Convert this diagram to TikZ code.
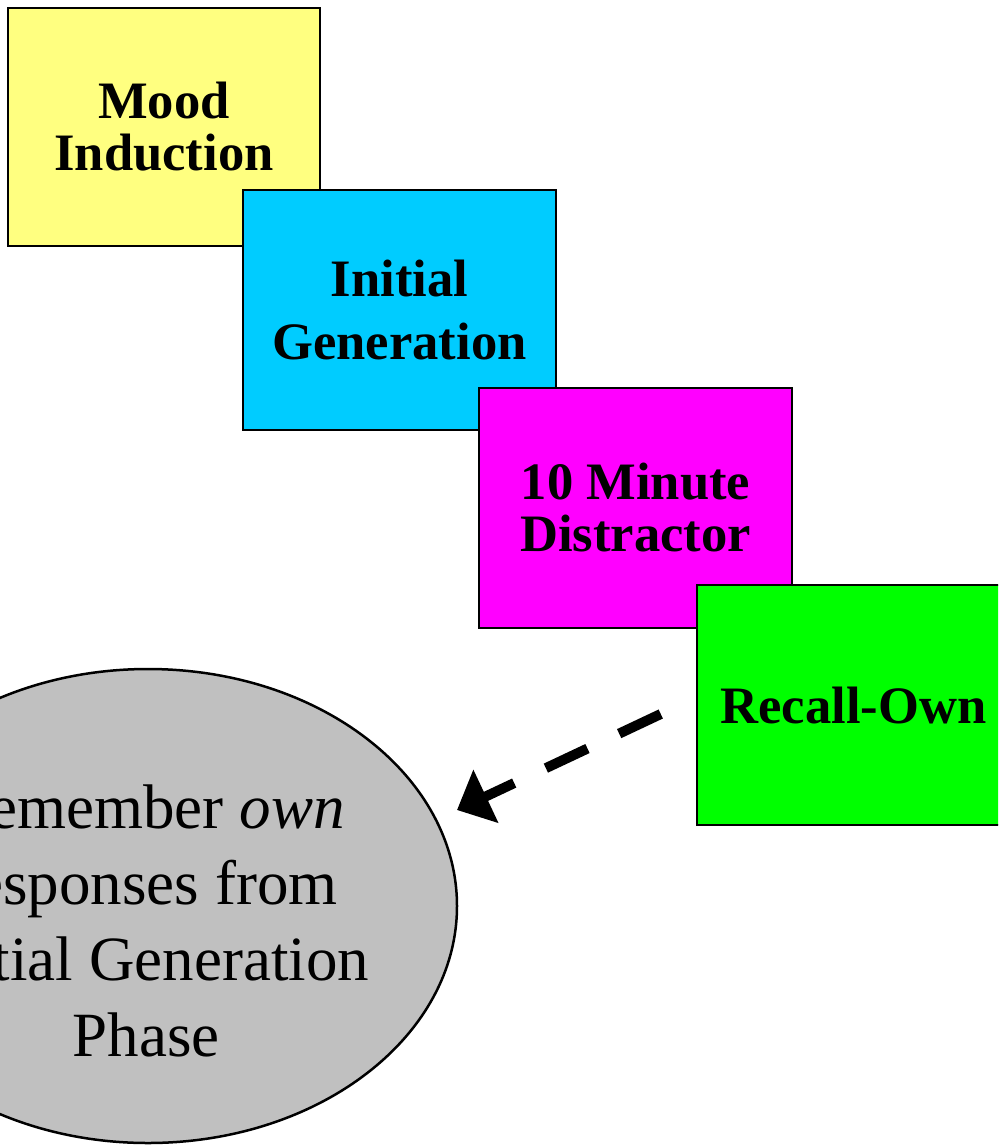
\documentclass[tikz,border=0pt]{standalone}
\usepackage{fontspec}
\setmainfont{Liberation Serif}
\usetikzlibrary{shapes.geometric,arrows.meta}
\definecolor{moodyellow}{RGB}{255,255,128}
\definecolor{gencyan}{RGB}{0,204,255}
\definecolor{distmagenta}{RGB}{255,0,255}
\definecolor{recallgreen}{RGB}{0,255,0}
\definecolor{phasegray}{RGB}{192,192,192}
\tikzset{
  stage/.style={draw=black, line width=1.25pt, minimum width=156.5pt,
    minimum height=120pt, inner sep=0pt, align=center,
    font=\fontsize{26.3pt}{26pt}\selectfont\bfseries},
  phase/.style={ellipse, draw=black, fill=phasegray, line width=1.25pt,
    minimum width=309pt, minimum height=237pt, inner sep=0pt},
  phasetext/.style={align=center, inner sep=0pt,
    font=\fontsize{31.5pt}{38pt}\selectfont},
  dasharrow/.style={line width=5pt, dash pattern=on 23pt off 17.5pt,
    -{Triangle[length=16pt,width=28.5pt]}}
}
\begin{document}
\begin{tikzpicture}[x=0.5pt,y=-0.5pt]
\useasboundingbox (0,0) rectangle (998,1146);
\clip (0,0) rectangle (998,1146);
% target phase
\node[phase] (ell) at (148,906) {};
\node[phasetext] (elltext) at (146,921)
  {Remember \textit{own}\\responses from\\Initial Generation\\Phase};
% procedure stages, each overlapping the previous one
\node[stage, fill=moodyellow, minimum width=156pt, minimum height=119pt]
  (mood) at (164,127) {Mood\\Induction};
\node[stage, fill=gencyan] (init) at (399.5,310) {Initial\\[5.5pt]Generation};
\node[stage, fill=distmagenta] (dist) at (635.5,508) {10 Minute\\Distractor};
\node[stage, fill=recallgreen] (recall) at (853.5,705) {Recall-Own};
% dashed link from the recall stage to the phase it refers to
\path (recall.west) ++(-35,9) coordinate (tail);
\path (ell.center) ++(309,-96) coordinate (tip);
\draw[dasharrow] (tail) -- (tip);
\end{tikzpicture}
\end{document}
